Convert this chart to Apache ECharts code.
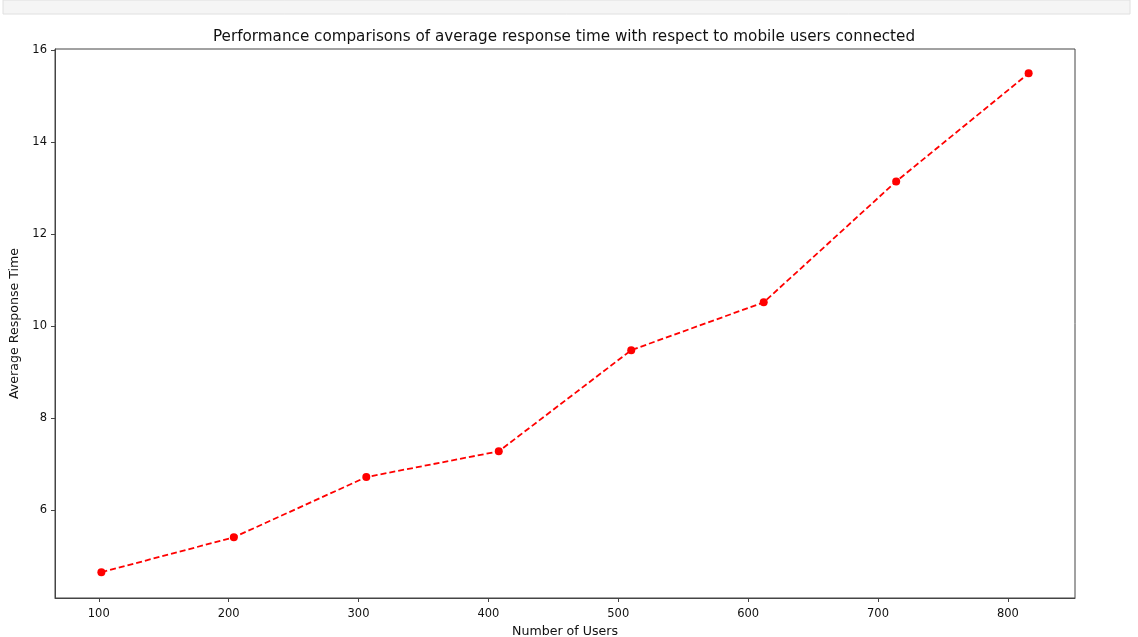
<!DOCTYPE html>
<html>
<head>
<meta charset="utf-8">
<script src="https://cdn.jsdelivr.net/npm/echarts@6/dist/echarts.min.js"></script>
<style>html,body{margin:0;padding:0;background:#fff;}#c{width:1138px;height:637px;}</style>
</head>
<body>
<div id="c"></div>
<script>
const users = [102, 204, 306, 408, 510, 612, 714, 816];
const responseTime = [4.65, 5.41, 6.72, 7.28, 9.48, 10.52, 13.15, 15.5];
const xTicks = [100, 200, 300, 400, 500, 600, 700, 800];
const yTicks = [6, 8, 10, 12, 14, 16];
const titleText = 'Performance comparisons of average response time with respect to mobile users connected';
const xName = 'Number of Users';
const yName = 'Average Response Time';

const chart = echarts.init(document.getElementById('c'), null, {renderer: 'canvas'});
const font = 'DejaVu Sans';
chart.setOption({
  animation: false,
  backgroundColor: '#fff',
  title: {
    text: titleText, left: 559, top: 25, textAlign: 'center',
    textStyle: {fontFamily: font, fontSize: 15.2, fontWeight: 'normal', color: '#111'}
  },
  graphic: [
    {type: 'rect', shape: {x: 3, y: 0, width: 1127, height: 14},
     style: {fill: '#f5f5f5', stroke: '#e0e0e0', lineWidth: 1}, z: -1}
  ],
  grid: {left: 55, right: 63, top: 49, bottom: 39, containLabel: false, outerBoundsMode: 'none',
         show: true, borderColor: '#444', borderWidth: 1, backgroundColor: 'transparent'},
  xAxis: {
    type: 'value', min: 66.3, max: 851.7,
    name: xName, nameLocation: 'middle', nameGap: 25,
    nameTextStyle: {fontFamily: font, fontSize: 12.6, color: '#111'},
    axisLine: {show: true, lineStyle: {color: '#444', width: 1}},
    axisTick: {show: true, length: 4, lineStyle: {color: '#444'}, customValues: xTicks},
    axisLabel: {fontFamily: font, fontSize: 11.5, color: '#111', margin: 10, customValues: xTicks},
    splitLine: {show: false}
  },
  yAxis: {
    type: 'value', min: 4.09, max: 16.03,
    name: yName, nameLocation: 'middle', nameGap: 32,
    nameTextStyle: {fontFamily: font, fontSize: 12.6, color: '#111'},
    axisLine: {show: true, lineStyle: {color: '#444', width: 1}},
    axisTick: {show: true, length: 4, lineStyle: {color: '#444'}, customValues: yTicks},
    axisLabel: {fontFamily: font, fontSize: 11.5, color: '#111', margin: 8, customValues: yTicks},
    splitLine: {show: false}
  },
  series: [{
    type: 'line',
    data: users.map((u, i) => [u, responseTime[i]]),
    symbol: 'circle', symbolSize: 8,
    itemStyle: {color: '#ff0000'},
    lineStyle: {color: '#ff0000', width: 1.8, type: [6, 3]}
  }]
});
</script>
</body>
</html>
